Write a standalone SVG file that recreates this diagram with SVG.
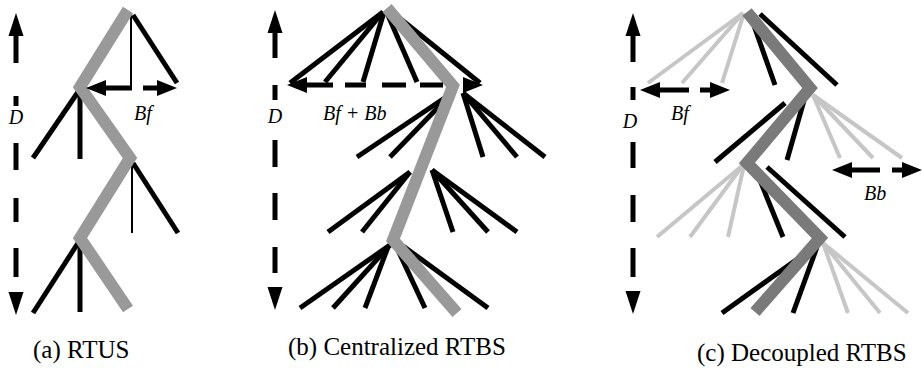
<svg xmlns="http://www.w3.org/2000/svg" width="923" height="373" viewBox="0 0 923 373">
  <style>
    .br { stroke: #000; stroke-width: 5; fill: none; stroke-linecap: butt; }
    .thin { stroke: #000; stroke-width: 2; fill: none; }
    .path { stroke: #999; stroke-width: 12; fill: none; stroke-linejoin: miter; stroke-linecap: butt; }
    .path-dk { stroke: #7a7a7a; stroke-width: 12; fill: none; stroke-linejoin: miter; stroke-linecap: butt; }
    .pruned { stroke: #c6c6c6; stroke-width: 4; fill: none; }
    .sh { stroke: #000; stroke-width: 5; fill: none; stroke-linecap: butt; }
    text { font-family: 'Liberation Serif', 'Times New Roman', serif; fill: #000; }
    .lbl { font-style: italic; font-size: 20px; }
    .cap { font-size: 25px; }
  </style>
  <defs>
    <path id="ahV" d="M0 0 L-23 -7.5 L-23 7.5 Z" fill="#000"/>
    <path id="ahH" d="M0 0 L-20 -8 L-20 8 Z" fill="#000"/>
  </defs>

  <!-- (a) RTUS -->
  <g id="tree-a">
    <line class="br" x1="133" y1="15" x2="177" y2="83"/>
    <line class="thin" x1="131" y1="13" x2="131" y2="88"/>
    <line class="br" x1="78" y1="92" x2="33" y2="158"/>
    <line class="br" x1="80" y1="93" x2="80" y2="159"/>
    <line class="thin" x1="132" y1="165" x2="132" y2="233"/>
    <line class="br" x1="133" y1="163" x2="178" y2="233"/>
    <line class="br" x1="78" y1="243" x2="33" y2="313"/>
    <line class="br" x1="80" y1="245" x2="80" y2="312"/>
    <path class="path" d="M128 10 L80 87 L130 158 L80 238 L128 309"/>
  </g>
  <g id="depth-a">
    <use href="#ahV" transform="translate(16,13) rotate(-90)"/>
    <path class="sh" d="M16 36V63 M16 96V106 M16 143V170 M16 198V222 M16 248V277"/>
    <use href="#ahV" transform="translate(16,315) rotate(90)"/>
    <text class="lbl" x="16" y="124" text-anchor="middle">D</text>
  </g>
  <g id="breadth-a">
    <use href="#ahH" transform="translate(86,88) rotate(180)"/>
    <path class="sh" d="M105 88H132 M143 88H158"/>
    <use href="#ahH" transform="translate(177,88)"/>
    <text class="lbl" x="134" y="120">Bf</text>
  </g>
  <text class="cap" x="33" y="358">(a) RTUS</text>

  <!-- (b) Centralized RTBS -->
  <g id="tree-b">
    <line class="br" x1="383" y1="12" x2="290" y2="83"/>
    <line class="br" x1="383" y1="12" x2="325" y2="82"/>
    <line class="br" x1="384" y1="12" x2="363" y2="82"/>
    <line class="br" x1="387" y1="13" x2="417" y2="82"/>
    <line class="br" x1="392" y1="12" x2="480" y2="83"/>
    <line class="br" x1="452" y1="93" x2="357" y2="157"/>
    <line class="br" x1="452" y1="93" x2="390" y2="157"/>
    <line class="br" x1="463" y1="93" x2="483" y2="157"/>
    <line class="br" x1="463" y1="93" x2="517" y2="157"/>
    <line class="br" x1="463" y1="93" x2="545" y2="157"/>
    <line class="br" x1="410" y1="172" x2="328" y2="232"/>
    <line class="br" x1="410" y1="172" x2="362" y2="232"/>
    <line class="br" x1="432" y1="170" x2="453" y2="232"/>
    <line class="br" x1="432" y1="170" x2="488" y2="232"/>
    <line class="br" x1="432" y1="170" x2="517" y2="232"/>
    <line class="br" x1="390" y1="245" x2="300" y2="308"/>
    <line class="br" x1="390" y1="245" x2="333" y2="308"/>
    <line class="br" x1="388" y1="247" x2="365" y2="308"/>
    <line class="br" x1="396" y1="246" x2="425" y2="308"/>
    <line class="br" x1="403" y1="246" x2="488" y2="308"/>
    <path class="path" d="M387 8 L453 86 L393 240 L457 313"/>
  </g>
  <g id="depth-b">
    <use href="#ahV" transform="translate(275,10) rotate(-90)"/>
    <path class="sh" d="M275 32V58 M275 85V100 M275 140V167 M275 193V220 M275 247V273"/>
    <use href="#ahV" transform="translate(275,310) rotate(90)"/>
    <text class="lbl" x="275" y="123" text-anchor="middle">D</text>
  </g>
  <g id="breadth-b">
    <use href="#ahH" transform="translate(287,85) rotate(180)"/>
    <path class="sh" d="M305 85H333 M345 85H366 M382 85H406 M420 85H443"/>
    <use href="#ahH" transform="translate(483,85)"/>
    <text class="lbl" x="323" y="120">Bf + Bb</text>
  </g>
  <text class="cap" x="288" y="355">(b) Centralized RTBS</text>

  <!-- (c) Decoupled RTBS -->
  <g id="tree-c">
    <line class="pruned" x1="743" y1="13" x2="648" y2="83"/>
    <line class="pruned" x1="743" y1="13" x2="682" y2="83"/>
    <line class="pruned" x1="744" y1="13" x2="722" y2="83"/>
    <line class="br" x1="752" y1="20" x2="775" y2="85"/>
    <line class="br" x1="760" y1="14" x2="837" y2="85"/>
    <line class="br" x1="785" y1="103" x2="715" y2="162"/>
    <line class="br" x1="805" y1="97" x2="787" y2="160"/>
    <line class="pruned" x1="813" y1="95" x2="840" y2="158"/>
    <line class="pruned" x1="813" y1="95" x2="873" y2="158"/>
    <line class="pruned" x1="813" y1="95" x2="902" y2="158"/>
    <line class="pruned" x1="743" y1="165" x2="657" y2="237"/>
    <line class="pruned" x1="743" y1="165" x2="690" y2="237"/>
    <line class="pruned" x1="744" y1="165" x2="728" y2="237"/>
    <line class="br" x1="757" y1="173" x2="783" y2="237"/>
    <line class="br" x1="767" y1="167" x2="845" y2="237"/>
    <line class="br" x1="810" y1="250" x2="722" y2="313"/>
    <line class="br" x1="817" y1="247" x2="793" y2="313"/>
    <line class="pruned" x1="823" y1="243" x2="848" y2="313"/>
    <line class="pruned" x1="823" y1="243" x2="880" y2="313"/>
    <line class="pruned" x1="823" y1="243" x2="908" y2="313"/>
    <path class="path-dk" d="M747 12 L810 88 L747 163 L820 238 L755 312"/>
  </g>
  <g id="depth-c">
    <use href="#ahV" transform="translate(633,13) rotate(-90)"/>
    <path class="sh" d="M633 35V62 M633 87V100 M633 142V168 M633 195V222 M633 248V277"/>
    <use href="#ahV" transform="translate(633,314) rotate(90)"/>
    <text class="lbl" x="630" y="128" text-anchor="middle">D</text>
  </g>
  <g id="breadth-fwd-c">
    <use href="#ahH" transform="translate(640,90) rotate(180)"/>
    <path class="sh" d="M658 90H689 M700 90H712"/>
    <use href="#ahH" transform="translate(730,90)"/>
    <text class="lbl" x="671" y="120">Bf</text>
  </g>
  <g id="breadth-bwd-c">
    <use href="#ahH" transform="translate(832,170) rotate(180)"/>
    <path class="sh" d="M850 170H880 M892 170H904"/>
    <use href="#ahH" transform="translate(922,170)"/>
    <text class="lbl" x="864" y="200">Bb</text>
  </g>
  <text class="cap" x="697" y="361">(c) Decoupled RTBS</text>
</svg>
